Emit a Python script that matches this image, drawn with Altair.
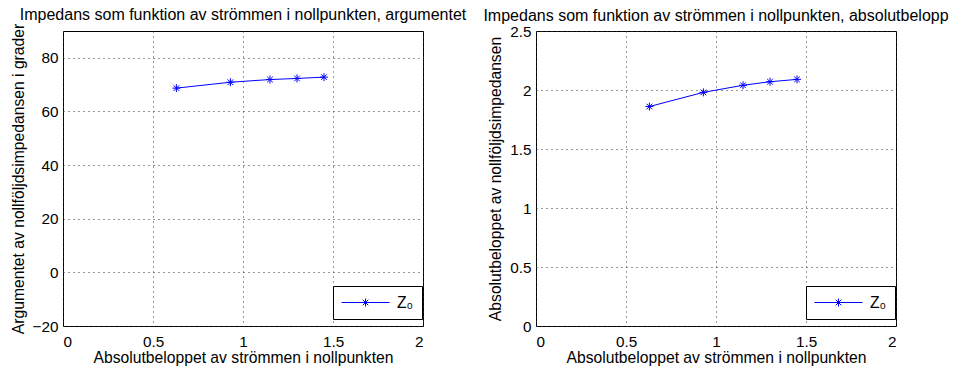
import altair as alt
import pandas as pd

# ---- data ----
current = [0.63, 0.93, 1.15, 1.30, 1.45]
argument_deg = [68.7, 70.9, 71.9, 72.3, 72.8]
magnitude = [1.86, 1.98, 2.04, 2.07, 2.09]
series = ["Z\u2080"] * 5

df_arg = pd.DataFrame({"x": current, "y": argument_deg, "s": series})
df_abs = pd.DataFrame({"x": current, "y": magnitude, "s": series})

FONT = "Liberation Sans"
BLUE = "#0000ff"
FS = 15.7
TFS = 16
STAR = "M-1,0L1,0M0,-1L0,1M-0.7,-0.7L0.7,0.7M-0.7,0.7L0.7,-0.7"
# legend glyph: a line with an asterisk in the middle, drawn to the right of the nominal symbol box
LEG_SYM = ("M-1,0L5,0M2,-0.5L2,0.5M1.65,-0.35L2.35,0.35"
           "M1.65,0.35L2.35,-0.35M1.5,0L2.5,0")

def panel(df, title, ytitle, ydom, yvals, ytitle_x):
    xenc = alt.X("x:Q", scale=alt.Scale(domain=[0, 2], nice=False),
                 axis=alt.Axis(values=[0, 0.5, 1, 1.5, 2], format="~f",
                               title="Absolutbeloppet av strömmen i nollpunkten",
                               titleY=31, titleBaseline="middle"))
    yenc = alt.Y("y:Q", scale=alt.Scale(domain=ydom, nice=False, zero=False),
                 axis=alt.Axis(values=yvals, title=ytitle, format="~f",
                               titleX=ytitle_x, titleBaseline="middle"))
    color = alt.Color("s:N", scale=alt.Scale(range=[BLUE]),
                      legend=alt.Legend(title=None, orient="none", legendX=270, legendY=255,
                                        symbolType=LEG_SYM, symbolSize=256,
                                        symbolStrokeWidth=1, symbolFillColor="transparent",
                                        symbolStrokeColor=BLUE,
                                        labelFont=FONT, labelFontSize=FS, labelColor="black",
                                        labelOffset=39, padding=8,
                                        strokeColor="black", fillColor="white"))
    line = alt.Chart(df).mark_line(strokeWidth=1, color=BLUE).encode(x=xenc, y=yenc, color=color)
    pts = alt.Chart(df).mark_point(shape=STAR, size=64, strokeWidth=1, filled=False,
                                   color=BLUE, opacity=1).encode(x="x:Q", y="y:Q", color=color)
    return alt.layer(line, pts).properties(
        width=360, height=295,
        title=alt.TitleParams(title, fontSize=TFS, font=FONT, fontWeight="normal",
                              color="black", offset=0, anchor="middle", frame="group"))

left = panel(df_arg, "Impedans som funktion av strömmen i nollpunkten, argumentet",
             "Argumentet av nollföljdsimpedansen i grader", [-20, 90],
             [-20, 0, 20, 40, 60, 80], -45)
right = panel(df_abs, "Impedans som funktion av strömmen i nollpunkten, absolutbelopp",
              "Absolutbeloppet av nollföljdsimpedansen", [0, 2.5],
              [0, 0.5, 1, 1.5, 2, 2.5], -41)

chart = alt.hconcat(left, right, spacing=113, bounds="flush").resolve_scale(
    color="independent"
).resolve_legend(color="independent").properties(
    padding={"left": 9, "top": 6, "right": 0, "bottom": 0},
    background="white",
).configure_view(stroke="black", strokeWidth=1).configure_axis(
    domain=False, ticks=False, grid=True, gridColor="#333333", gridDash=[1, 4],
    gridOpacity=1, gridWidth=1,
    labelFont=FONT, labelFontSize=15.3, labelColor="black", labelPadding=5,
    titleFont=FONT, titleFontSize=FS, titleFontWeight="normal", titleColor="black",
).configure_axisX(labelPadding=8)

chart.save("out.html", embed_options={"renderer": "svg", "actions": False})
